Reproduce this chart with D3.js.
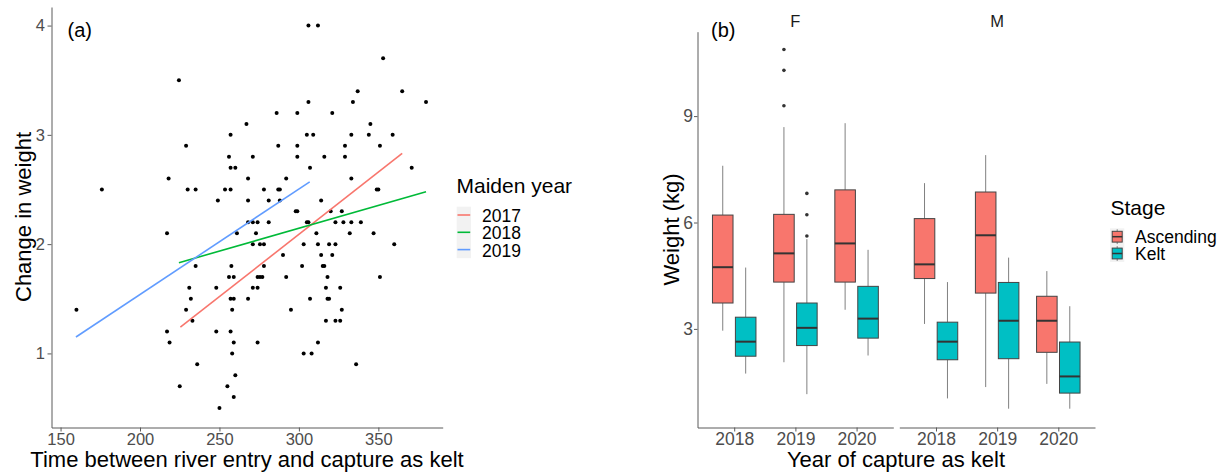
<!DOCTYPE html>
<html><head><meta charset="utf-8">
<script src="https://cdn.jsdelivr.net/npm/d3@7"></script>
<style>
html,body{margin:0;padding:0;background:#fff;}
svg{display:block;font-family:"Liberation Sans",Arial,sans-serif;}
</style></head><body>
<svg id="fig" width="1225" height="473"></svg>
<script>
// ---------- (a) change in weight vs. days between river entry and kelt capture ----------
const daysToKelt = [
  306, 312,
  353,
  224.5,
  337, 365,
  306, 334, 380,
  286, 299, 321,
  267, 345,
  257, 305, 309, 333, 344, 359,
  229, 287, 299, 329, 351,
  256, 271, 299, 316, 329,
  257, 260, 307, 371,
  218, 268, 292, 333,
  176, 230, 235, 253.5, 257, 278, 287, 288, 349, 350,
  249, 268, 281, 288, 314,
  298, 299, 320, 327,
  268, 271, 274, 281, 305, 306, 323, 328, 333, 339,
  217, 261, 273, 311, 332, 347,
  271, 275.5, 278, 303, 312, 319, 323, 360,
  290, 314, 321,
  235, 257.5, 278, 302, 315, 316,
  256, 259, 274, 275.5, 277, 292, 318, 351,
  231, 248, 271, 274, 317, 326,
  232, 257, 259, 268, 307, 318, 319,
  160, 229, 258, 295, 327,
  233, 317, 323, 326,
  217, 248, 257,
  218.6, 259, 274, 312,
  258, 303, 308,
  236, 336,
  260,
  225, 255,
  259,
  250
];
const weightChange = [
  4.0, 4.0,
  3.7,
  3.5,
  3.4, 3.4,
  3.3, 3.3, 3.3,
  3.2, 3.2, 3.2,
  3.1, 3.1,
  3.0, 3.0, 3.0, 3.0, 3.0, 3.0,
  2.9, 2.9, 2.9, 2.9, 2.9,
  2.8, 2.8, 2.8, 2.8, 2.8,
  2.7, 2.7, 2.7, 2.7,
  2.6, 2.6, 2.6, 2.6,
  2.5, 2.5, 2.5, 2.5, 2.5, 2.5, 2.5, 2.5, 2.5, 2.5,
  2.4, 2.4, 2.4, 2.4, 2.4,
  2.3, 2.3, 2.3, 2.3,
  2.2, 2.2, 2.2, 2.2, 2.2, 2.2, 2.2, 2.2, 2.2, 2.2,
  2.1, 2.1, 2.1, 2.1, 2.1, 2.1,
  2.0, 2.0, 2.0, 2.0, 2.0, 2.0, 2.0, 2.0,
  1.9, 1.9, 1.9,
  1.8, 1.8, 1.8, 1.8, 1.8, 1.8,
  1.7, 1.7, 1.7, 1.7, 1.7, 1.7, 1.7, 1.7,
  1.6, 1.6, 1.6, 1.6, 1.6, 1.6,
  1.5, 1.5, 1.5, 1.5, 1.5, 1.5, 1.5,
  1.4, 1.4, 1.4, 1.4, 1.4,
  1.3, 1.3, 1.3, 1.3,
  1.2, 1.2, 1.2,
  1.1, 1.1, 1.1, 1.1,
  1.0, 1.0, 1.0,
  0.9, 0.9,
  0.8,
  0.7, 0.7,
  0.6,
  0.5
];
const maidenYears = ["2017", "2018", "2019"];
const maidenColors = ["#F8766D", "#00BA38", "#619CFF"];
const fitFromDays = [225.4, 224.5, 159.7];
const fitToDays = [365.0, 380.0, 306.8];
const fitFromChange = [1.24, 1.83, 1.15];
const fitToChange = [2.83, 2.48, 2.57];
const daysTicks = [150, 200, 250, 300, 350];
const changeTicks = [1, 2, 3, 4];

// ---------- (b) weight by year of capture, sex and stage ----------
const sexes = ["F", "M"];
const captureYears = ["2018", "2019", "2020"];
const stages = ["Ascending", "Kelt"];
const stageColors = ["#F8766D", "#00BFC4"];
// order: F-2018-Asc, F-2018-Kelt, F-2019-Asc, F-2019-Kelt, F-2020-Asc, F-2020-Kelt, then M likewise
const boxSex   = ["F","F","F","F","F","F","M","M","M","M","M","M"];
const boxYear  = ["2018","2018","2019","2019","2020","2020","2018","2018","2019","2019","2020","2020"];
const boxStage = ["Ascending","Kelt","Ascending","Kelt","Ascending","Kelt","Ascending","Kelt","Ascending","Kelt","Ascending","Kelt"];
const whiskerLow  = [2.95, 1.74, 2.06, 1.16, 3.54, 2.25, 3.14, 1.04, 1.36, 0.75, 1.45, 0.75];
const quartile1   = [3.73, 2.23, 4.32, 2.53, 4.32, 2.74, 4.42, 2.13, 4.01, 2.16, 2.34, 1.19];
const medianW     = [4.74, 2.64, 5.13, 3.03, 5.41, 3.29, 4.82, 2.64, 5.64, 3.23, 3.23, 1.66];
const quartile3   = [6.21, 3.33, 6.23, 3.73, 6.92, 4.20, 6.11, 3.19, 6.86, 4.31, 3.92, 2.63];
const whiskerHigh = [7.60, 4.73, 8.69, 5.53, 8.80, 5.23, 7.11, 4.32, 7.90, 5.01, 4.63, 3.64];
const outlierSex    = ["F","F","F","F","F","F"];
const outlierYear   = ["2019","2019","2019","2019","2019","2019"];
const outlierStage  = ["Ascending","Ascending","Ascending","Kelt","Kelt","Kelt"];
const outlierWeight = [10.88, 10.29, 9.29, 6.82, 6.22, 5.62];
const weightTicks = [3, 6, 9];

// ---------- drawing ----------
const svg = d3.select("#fig");
const axisColor = "#5a5a5a";
const tickTextColor = "#4D4D4D";
const intFmt = d3.format("d");

function styleAxis(g, fontSize) {
  g.select(".domain").attr("stroke", axisColor).attr("stroke-width", 1);
  g.selectAll(".tick line").attr("stroke", axisColor).attr("stroke-width", 1);
  g.selectAll(".tick text").attr("fill", tickTextColor)
    .style("font-size", fontSize + "px")
    .style("font-family", '"Liberation Sans", Arial, sans-serif');
}

// ===== Panel (a) =====
const xA = d3.scaleLinear().domain([144.3, 390.5]).range([51.5, 442.7]);
const yA = d3.scaleLinear().domain([0.322, 4.17]).range([427.5, 7]);

const gA = svg.append("g");

gA.append("g").attr("transform", "translate(0,427.5)")
  .call(d3.axisBottom(xA).tickValues(daysTicks).tickFormat(intFmt).tickSize(4).tickSizeOuter(0).tickPadding(2))
  .call(g => styleAxis(g, 16.5));
gA.append("g").attr("transform", "translate(51.5,0)")
  .call(d3.axisLeft(yA).tickValues(changeTicks).tickFormat(intFmt).tickSize(4).tickSizeOuter(0).tickPadding(2.5))
  .call(g => styleAxis(g, 16.5));

gA.append("g").selectAll("circle")
  .data(d3.range(daysToKelt.length))
  .join("circle")
  .attr("cx", i => xA(daysToKelt[i]))
  .attr("cy", i => yA(weightChange[i]))
  .attr("r", 2)
  .attr("fill", "#000");

gA.append("g").selectAll("line")
  .data(d3.range(maidenYears.length))
  .join("line")
  .attr("x1", i => xA(fitFromDays[i]))
  .attr("y1", i => yA(fitFromChange[i]))
  .attr("x2", i => xA(fitToDays[i]))
  .attr("y2", i => yA(fitToChange[i]))
  .attr("stroke", i => maidenColors[i])
  .attr("stroke-width", 1.6);

gA.append("text").attr("x", 67.5).attr("y", 36.5)
  .style("font-size", "20px").attr("fill", "#000").text("(a)");

gA.append("text").attr("x", 247).attr("y", 467)
  .attr("text-anchor", "middle").style("font-size", "22px").attr("fill", "#000")
  .text("Time between river entry and capture as kelt");
gA.append("text").attr("transform", "translate(31,217) rotate(-90)")
  .attr("text-anchor", "middle").style("font-size", "22px").attr("fill", "#000")
  .text("Change in weight");

// legend (a)
const legA = svg.append("g");
legA.append("text").attr("x", 456.5).attr("y", 192.7)
  .style("font-size", "21px").attr("fill", "#000").text("Maiden year");
legA.append("rect").attr("x", 456.7).attr("y", 206.7).attr("width", 14.3).attr("height", 51.5)
  .attr("fill", "#F2F2F2");
maidenYears.forEach((yr, i) => {
  const cy = 215 + i * 17.3;
  legA.append("line").attr("x1", 457.5).attr("x2", 470.2).attr("y1", cy).attr("y2", cy)
    .attr("stroke", maidenColors[i]).attr("stroke-width", 1.6);
  legA.append("text").attr("x", 482).attr("y", cy + 7)
    .style("font-size", "17.5px").attr("fill", "#000").text(yr);
});

// ===== Panel (b) =====
const yB = d3.scaleLinear().domain([0.22, 11.38]).range([427.5, 31.7]);
const facetRange = { F: [697.5, 893.3], M: [899.3, 1095] };
const dodge = 0.1875, boxHalf = 0.168;

sexes.forEach(sex => {
  const xB = d3.scalePoint().domain(captureYears).range(facetRange[sex]).padding(0.6);
  const step = xB.step();
  const g = svg.append("g");

  g.append("g").attr("transform", "translate(0,427.5)")
    .call(d3.axisBottom(xB).tickSize(4).tickSizeOuter(0).tickPadding(1.5))
    .call(a => styleAxis(a, 17.5));

  const center = (year, stage) => xB(year) + (stage === "Ascending" ? -dodge : dodge) * step;

  const idx = d3.range(boxSex.length).filter(i => boxSex[i] === sex);
  const bx = g.append("g").selectAll("g").data(idx).join("g");
  // whiskers
  bx.append("line")
    .attr("x1", i => center(boxYear[i], boxStage[i])).attr("x2", i => center(boxYear[i], boxStage[i]))
    .attr("y1", i => yB(whiskerHigh[i])).attr("y2", i => yB(quartile3[i]))
    .attr("stroke", "#808080").attr("stroke-width", 1);
  bx.append("line")
    .attr("x1", i => center(boxYear[i], boxStage[i])).attr("x2", i => center(boxYear[i], boxStage[i]))
    .attr("y1", i => yB(quartile1[i])).attr("y2", i => yB(whiskerLow[i]))
    .attr("stroke", "#808080").attr("stroke-width", 1);
  // boxes
  bx.append("rect")
    .attr("x", i => center(boxYear[i], boxStage[i]) - boxHalf * step)
    .attr("width", 2 * boxHalf * step)
    .attr("y", i => yB(quartile3[i]))
    .attr("height", i => yB(quartile1[i]) - yB(quartile3[i]))
    .attr("fill", i => stageColors[stages.indexOf(boxStage[i])])
    .attr("stroke", "#444").attr("stroke-width", 1);
  // medians
  bx.append("line")
    .attr("x1", i => center(boxYear[i], boxStage[i]) - boxHalf * step)
    .attr("x2", i => center(boxYear[i], boxStage[i]) + boxHalf * step)
    .attr("y1", i => yB(medianW[i])).attr("y2", i => yB(medianW[i]))
    .attr("stroke", "#333").attr("stroke-width", 2);

  // outliers
  const oIdx = d3.range(outlierSex.length).filter(i => outlierSex[i] === sex);
  g.append("g").selectAll("circle").data(oIdx).join("circle")
    .attr("cx", i => center(outlierYear[i], outlierStage[i]))
    .attr("cy", i => yB(outlierWeight[i]))
    .attr("r", 1.8).attr("fill", "#333");

  // facet strip label
  g.append("text").attr("x", (facetRange[sex][0] + facetRange[sex][1]) / 2).attr("y", 26.5)
    .attr("text-anchor", "middle").style("font-size", "16.5px").attr("fill", "#1A1A1A").text(sex);
});

svg.append("g").attr("transform", "translate(697.5,0)")
  .call(d3.axisLeft(yB).tickValues(weightTicks).tickFormat(intFmt).tickSize(3.5).tickSizeOuter(0).tickPadding(1))
  .call(g => styleAxis(g, 17.5));

svg.append("text").attr("x", 711).attr("y", 36.5)
  .style("font-size", "20px").attr("fill", "#000").text("(b)");
svg.append("text").attr("x", 896).attr("y", 467)
  .attr("text-anchor", "middle").style("font-size", "22px").attr("fill", "#000")
  .text("Year of capture as kelt");
svg.append("text").attr("transform", "translate(679,229.5) rotate(-90)")
  .attr("text-anchor", "middle").style("font-size", "22px").attr("fill", "#000")
  .text("Weight (kg)");

// legend (b)
const legB = svg.append("g");
legB.append("text").attr("x", 1110.5).attr("y", 215)
  .style("font-size", "21px").attr("fill", "#000").text("Stage");
legB.append("rect").attr("x", 1110).attr("y", 228.3).attr("width", 14.3).attr("height", 33.6)
  .attr("fill", "#F2F2F2");
stages.forEach((st, i) => {
  const top = 228.3 + i * 16.8, cx = 1117.2;
  legB.append("line").attr("x1", cx).attr("x2", cx).attr("y1", top + 1).attr("y2", top + 15.8)
    .attr("stroke", "#808080").attr("stroke-width", 1);
  legB.append("rect").attr("x", 1112.2).attr("y", top + 3).attr("width", 10).attr("height", 10.8)
    .attr("fill", stageColors[i]).attr("stroke", "#444").attr("stroke-width", 1);
  legB.append("line").attr("x1", 1112.2).attr("x2", 1122.2).attr("y1", top + 8.4).attr("y2", top + 8.4)
    .attr("stroke", "#333").attr("stroke-width", 1.5);
  legB.append("text").attr("x", 1135).attr("y", top + 15)
    .style("font-size", "17.5px").attr("fill", "#000").text(st);
});
</script>
</body></html>
